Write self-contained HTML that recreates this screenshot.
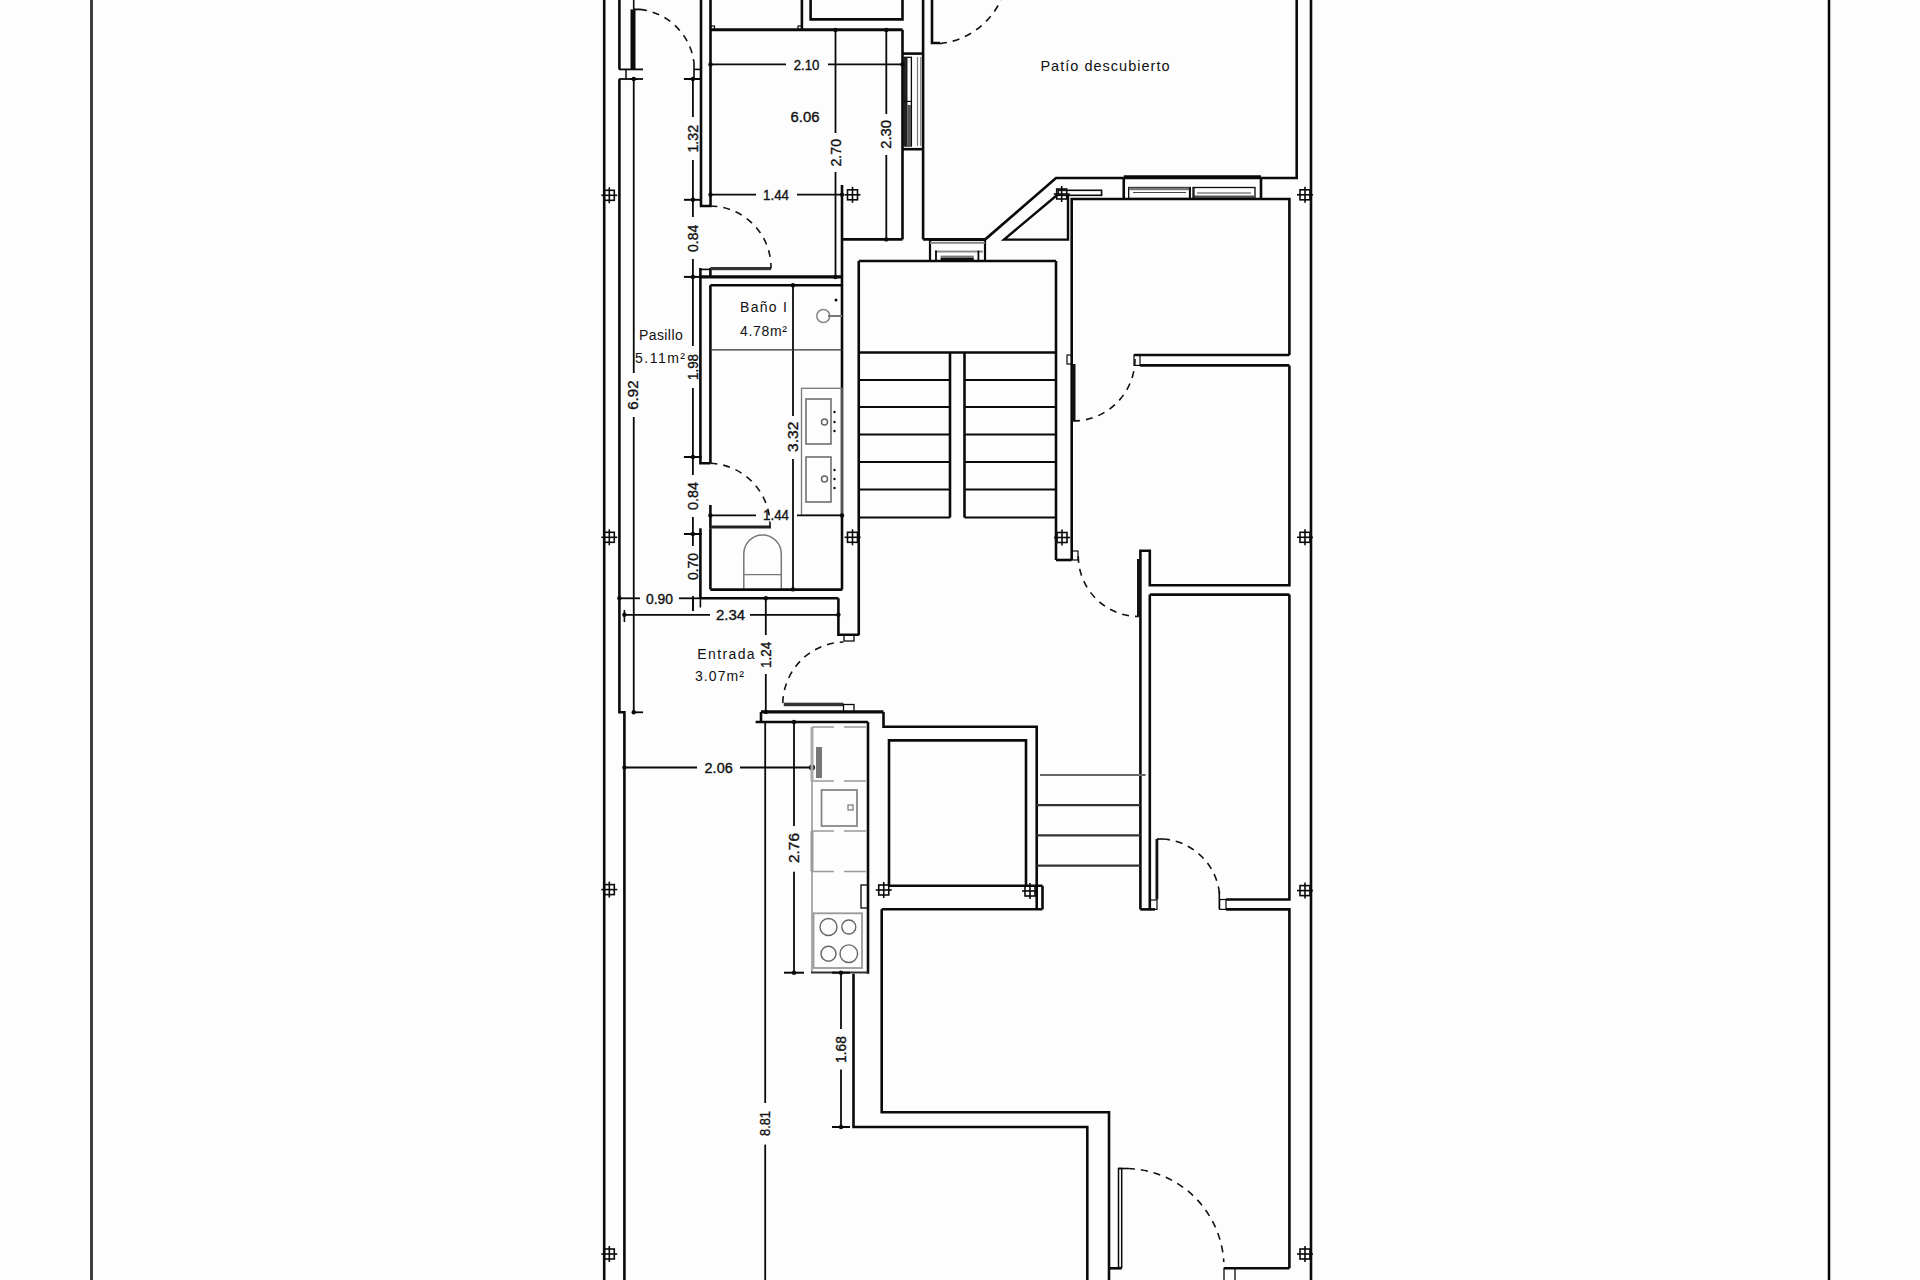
<!DOCTYPE html>
<html><head><meta charset="utf-8"><style>
html,body{margin:0;padding:0;background:#fdfdfd;width:1920px;height:1280px;overflow:hidden}
svg{display:block}
text{font-family:"Liberation Sans",sans-serif;fill:#111;stroke:#111;stroke-width:0.35px}
text.w{stroke-width:0}
</style></head><body>
<svg width="1920" height="1280" viewBox="0 0 1920 1280">
<line x1="91.5" y1="0" x2="91.5" y2="1280" stroke="#3f3f3f" stroke-width="3" />
<line x1="1829" y1="0" x2="1829" y2="1280" stroke="#050505" stroke-width="2.5" />
<line x1="604.2" y1="0" x2="604.2" y2="1280" stroke="#0a0a0a" stroke-width="2.6" />
<line x1="1311" y1="0" x2="1311" y2="1280" stroke="#0a0a0a" stroke-width="2.6" />
<polyline points="619.4,0 619.4,69.4" fill="none" stroke="#0a0a0a" stroke-width="2.6"/>
<polyline points="619.4,79 619.4,712.3 624.4,712.3 624.4,1280" fill="none" stroke="#0a0a0a" stroke-width="2.6"/>
<line x1="619" y1="69.4" x2="643" y2="69.4" stroke="#0a0a0a" stroke-width="1.8" />
<line x1="619" y1="79" x2="643" y2="79" stroke="#0a0a0a" stroke-width="1.8" />
<line x1="626" y1="69.4" x2="626" y2="79" stroke="#0a0a0a" stroke-width="1.5" />
<line x1="633.7" y1="0" x2="633.7" y2="9.4" stroke="#0a0a0a" stroke-width="1.6" />
<rect x="630.5" y="9.4" width="5.0" height="60.6" fill="#0a0a0a"/>
<line x1="633.7" y1="9.4" x2="640" y2="9.4" stroke="#0a0a0a" stroke-width="1.8" />
<path d="M640,9.4 A61,61 0 0 1 694,63" fill="none" stroke="#111" stroke-width="1.6" stroke-dasharray="7 6"/>
<line x1="694" y1="63" x2="694" y2="79" stroke="#0a0a0a" stroke-width="1.6" />
<line x1="694" y1="69.4" x2="701" y2="69.4" stroke="#0a0a0a" stroke-width="1.6" />
<line x1="633.75" y1="79" x2="633.75" y2="373" stroke="#0a0a0a" stroke-width="1.8" />
<line x1="633.75" y1="417" x2="633.75" y2="712.3" stroke="#0a0a0a" stroke-width="1.8" />
<line x1="629.75" y1="79" x2="637.75" y2="79" stroke="#0a0a0a" stroke-width="2.0" />
<circle cx="633.75" cy="79" r="2.2" fill="#0a0a0a" stroke="#0a0a0a" stroke-width="0"/>
<line x1="633" y1="712.3" x2="643" y2="712.3" stroke="#0a0a0a" stroke-width="1.8" />
<circle cx="633.75" cy="712.3" r="2.2" fill="#0a0a0a" stroke="#0a0a0a" stroke-width="0"/>
<text x="633.5" y="395.12" font-size="14" text-anchor="middle" dominant-baseline="central" textLength="29.25" lengthAdjust="spacingAndGlyphs" transform="rotate(-90 633.5 395.12)">6.92</text>
<polyline points="701,0 701,206 710.5,206 710.5,0" fill="none" stroke="#0a0a0a" stroke-width="2.6"/>
<line x1="710.5" y1="29.75" x2="902.5" y2="29.75" stroke="#0a0a0a" stroke-width="2.8" />
<line x1="801.9" y1="0" x2="801.9" y2="29.75" stroke="#0a0a0a" stroke-width="2.6" />
<polyline points="810.6,0 810.6,19.4 902.5,19.4 902.5,0" fill="none" stroke="#0a0a0a" stroke-width="2.6"/>
<rect x="710.5" y="26" width="4.0" height="3.75" fill="none" stroke="#0a0a0a" stroke-width="1.2"/>
<rect x="798" y="26" width="4" height="3.75" fill="none" stroke="#0a0a0a" stroke-width="1.2"/>
<line x1="902.5" y1="29.75" x2="902.5" y2="239.4" stroke="#0a0a0a" stroke-width="2.6" />
<line x1="923.1" y1="0" x2="923.1" y2="239.4" stroke="#0a0a0a" stroke-width="2.6" />
<line x1="902.5" y1="53.6" x2="923.1" y2="53.6" stroke="#0a0a0a" stroke-width="2.6" />
<line x1="902.5" y1="149.2" x2="923.1" y2="149.2" stroke="#0a0a0a" stroke-width="2.6" />
<rect x="904" y="57.3" width="7.399999999999977" height="88.7" fill="none" stroke="#0a0a0a" stroke-width="1.3"/>
<rect x="904" y="57.3" width="3.5" height="88.7" fill="#222"/>
<rect x="907.5" y="105" width="3.5" height="41" fill="#555"/>
<line x1="904" y1="101.4" x2="911.4" y2="101.4" stroke="#0a0a0a" stroke-width="1.2" />
<line x1="917.5" y1="57" x2="917.5" y2="146" stroke="#777" stroke-width="1.2" />
<line x1="920.8" y1="57" x2="920.8" y2="146" stroke="#777" stroke-width="1.2" />
<polyline points="932,0 932,43 940,43" fill="none" stroke="#0a0a0a" stroke-width="2.6"/>
<path d="M940,43.6 A76,76 0 0 0 1000.9,0" fill="none" stroke="#111" stroke-width="1.6" stroke-dasharray="7 6"/>
<line x1="710.5" y1="64.4" x2="786" y2="64.4" stroke="#0a0a0a" stroke-width="1.8" />
<line x1="828" y1="64.4" x2="902.5" y2="64.4" stroke="#0a0a0a" stroke-width="1.8" />
<circle cx="710.5" cy="64.4" r="2.2" fill="#0a0a0a" stroke="#0a0a0a" stroke-width="0"/>
<circle cx="902.5" cy="64.4" r="2.2" fill="#0a0a0a" stroke="#0a0a0a" stroke-width="0"/>
<text x="806.58" y="65" font-size="14" text-anchor="middle" dominant-baseline="central" textLength="25.65" lengthAdjust="spacingAndGlyphs">2.10</text>
<line x1="835.5" y1="29.75" x2="835.5" y2="133" stroke="#0a0a0a" stroke-width="1.8" />
<line x1="835.5" y1="172" x2="835.5" y2="277" stroke="#0a0a0a" stroke-width="1.8" />
<circle cx="835.5" cy="30" r="2.2" fill="#0a0a0a" stroke="#0a0a0a" stroke-width="0"/>
<circle cx="835.5" cy="277" r="2.2" fill="#0a0a0a" stroke="#0a0a0a" stroke-width="0"/>
<text x="835.5" y="152.75" font-size="14" text-anchor="middle" dominant-baseline="central" textLength="27.50" lengthAdjust="spacingAndGlyphs" transform="rotate(-90 835.5 152.75)">2.70</text>
<line x1="886.3" y1="29.75" x2="886.3" y2="114" stroke="#0a0a0a" stroke-width="1.8" />
<line x1="886.3" y1="155" x2="886.3" y2="239.4" stroke="#0a0a0a" stroke-width="1.8" />
<circle cx="886.3" cy="30" r="2.2" fill="#0a0a0a" stroke="#0a0a0a" stroke-width="0"/>
<circle cx="886.3" cy="239.4" r="2.2" fill="#0a0a0a" stroke="#0a0a0a" stroke-width="0"/>
<text x="886.3" y="134.38" font-size="14" text-anchor="middle" dominant-baseline="central" textLength="28.75" lengthAdjust="spacingAndGlyphs" transform="rotate(-90 886.3 134.38)">2.30</text>
<text x="805.00" y="116.5" font-size="14" text-anchor="middle" dominant-baseline="central" textLength="28.80" lengthAdjust="spacingAndGlyphs">6.06</text>
<line x1="710.5" y1="194.6" x2="756" y2="194.6" stroke="#0a0a0a" stroke-width="1.8" />
<line x1="797" y1="194.6" x2="842" y2="194.6" stroke="#0a0a0a" stroke-width="1.8" />
<circle cx="710.5" cy="194.6" r="2.2" fill="#0a0a0a" stroke="#0a0a0a" stroke-width="0"/>
<circle cx="842" cy="194.6" r="2.2" fill="#0a0a0a" stroke="#0a0a0a" stroke-width="0"/>
<text x="776.00" y="194.6" font-size="14" text-anchor="middle" dominant-baseline="central" textLength="26.00" lengthAdjust="spacingAndGlyphs">1.44</text>
<line x1="601.3" y1="195.3" x2="617.3" y2="195.3" stroke="#0a0a0a" stroke-width="1.6" />
<line x1="609.3" y1="187.3" x2="609.3" y2="203.3" stroke="#0a0a0a" stroke-width="1.6" />
<rect x="604.3" y="190.3" width="10.0" height="10.0" fill="none" stroke="#0a0a0a" stroke-width="1.6"/>
<line x1="844.5" y1="194.8" x2="860.5" y2="194.8" stroke="#0a0a0a" stroke-width="1.6" />
<line x1="852.5" y1="186.8" x2="852.5" y2="202.8" stroke="#0a0a0a" stroke-width="1.6" />
<rect x="847.5" y="189.8" width="10.0" height="10.0" fill="none" stroke="#0a0a0a" stroke-width="1.6"/>
<line x1="692.9" y1="79" x2="692.9" y2="117" stroke="#0a0a0a" stroke-width="1.8" />
<line x1="692.9" y1="160" x2="692.9" y2="217" stroke="#0a0a0a" stroke-width="1.8" />
<line x1="692.9" y1="259" x2="692.9" y2="346" stroke="#0a0a0a" stroke-width="1.8" />
<line x1="692.9" y1="388" x2="692.9" y2="475" stroke="#0a0a0a" stroke-width="1.8" />
<line x1="692.9" y1="517" x2="692.9" y2="546" stroke="#0a0a0a" stroke-width="1.8" />
<line x1="692.9" y1="596" x2="692.9" y2="611" stroke="#0a0a0a" stroke-width="1.8" />
<line x1="700.4" y1="598.3" x2="700.4" y2="607.5" stroke="#0a0a0a" stroke-width="1.6" />
<line x1="683.9" y1="79" x2="701.9" y2="79" stroke="#0a0a0a" stroke-width="2.0" />
<circle cx="692.9" cy="79" r="2.2" fill="#0a0a0a" stroke="#0a0a0a" stroke-width="0"/>
<line x1="683.9" y1="199.8" x2="701.9" y2="199.8" stroke="#0a0a0a" stroke-width="2.0" />
<circle cx="692.9" cy="199.8" r="2.2" fill="#0a0a0a" stroke="#0a0a0a" stroke-width="0"/>
<line x1="683.9" y1="276.9" x2="701.9" y2="276.9" stroke="#0a0a0a" stroke-width="2.0" />
<circle cx="692.9" cy="276.9" r="2.2" fill="#0a0a0a" stroke="#0a0a0a" stroke-width="0"/>
<line x1="683.9" y1="457" x2="701.9" y2="457" stroke="#0a0a0a" stroke-width="2.0" />
<circle cx="692.9" cy="457" r="2.2" fill="#0a0a0a" stroke="#0a0a0a" stroke-width="0"/>
<line x1="683.9" y1="534" x2="701.9" y2="534" stroke="#0a0a0a" stroke-width="2.0" />
<circle cx="692.9" cy="534" r="2.2" fill="#0a0a0a" stroke="#0a0a0a" stroke-width="0"/>
<line x1="692.9" y1="598.3" x2="692.9" y2="611" stroke="#0a0a0a" stroke-width="1.8" />
<text x="692.9" y="138.75" font-size="14" text-anchor="middle" dominant-baseline="central" textLength="27.50" lengthAdjust="spacingAndGlyphs" transform="rotate(-90 692.9 138.75)">1.32</text>
<text x="692.9" y="238.35" font-size="14" text-anchor="middle" dominant-baseline="central" textLength="27.10" lengthAdjust="spacingAndGlyphs" transform="rotate(-90 692.9 238.35)">0.84</text>
<text x="692.9" y="367.00" font-size="14" text-anchor="middle" dominant-baseline="central" textLength="26.00" lengthAdjust="spacingAndGlyphs" transform="rotate(-90 692.9 367.00)">1.98</text>
<text x="692.9" y="496.00" font-size="14" text-anchor="middle" dominant-baseline="central" textLength="28.00" lengthAdjust="spacingAndGlyphs" transform="rotate(-90 692.9 496.00)">0.84</text>
<text x="692.9" y="566.50" font-size="14" text-anchor="middle" dominant-baseline="central" textLength="27.00" lengthAdjust="spacingAndGlyphs" transform="rotate(-90 692.9 566.50)">0.70</text>
<polyline points="700.4,268 700.4,463.3 710.4,463.3" fill="none" stroke="#0a0a0a" stroke-width="2.6"/>
<line x1="710.4" y1="268" x2="710.4" y2="277" stroke="#0a0a0a" stroke-width="2.6" />
<line x1="700.4" y1="269.4" x2="710.4" y2="269.4" stroke="#0a0a0a" stroke-width="1.6" />
<rect x="710.4" y="267" width="60.60000000000002" height="3.1999999999999886" fill="#333"/>
<path d="M710.4,206 A61.5,61.5 0 0 1 771,268.5" fill="none" stroke="#111" stroke-width="1.6" stroke-dasharray="7 6"/>
<line x1="700.4" y1="276.9" x2="842" y2="276.9" stroke="#0a0a0a" stroke-width="3.2" />
<line x1="842" y1="185" x2="842" y2="589.4" stroke="#0a0a0a" stroke-width="2.6" />
<polyline points="842,239.4 902.5,239.4" fill="none" stroke="#0a0a0a" stroke-width="2.6"/>
<line x1="923.1" y1="239.4" x2="985" y2="239.4" stroke="#0a0a0a" stroke-width="2.6" />
<line x1="930" y1="239.4" x2="930" y2="261" stroke="#0a0a0a" stroke-width="2.2" />
<line x1="985" y1="239.4" x2="985" y2="261" stroke="#0a0a0a" stroke-width="2.2" />
<rect x="930" y="241.8" width="55" height="2.0" fill="#888"/>
<rect x="935" y="250.6" width="48" height="1.9000000000000057" fill="#888"/>
<line x1="936" y1="250.6" x2="936" y2="261" stroke="#0a0a0a" stroke-width="1.8" />
<line x1="978.4" y1="250.6" x2="978.4" y2="261" stroke="#0a0a0a" stroke-width="1.8" />
<rect x="940.6" y="255.6" width="33.19999999999993" height="2.4000000000000057" fill="#777"/>
<rect x="940.6" y="258" width="33.19999999999993" height="3" fill="#111"/>
<line x1="858.75" y1="261" x2="1056" y2="261" stroke="#0a0a0a" stroke-width="2.6" />
<line x1="858.75" y1="261" x2="858.75" y2="635.2" stroke="#0a0a0a" stroke-width="2.6" />
<line x1="858.75" y1="352.5" x2="1056" y2="352.5" stroke="#0a0a0a" stroke-width="2.6" />
<line x1="950" y1="352.5" x2="950" y2="517.5" stroke="#0a0a0a" stroke-width="2.6" />
<line x1="964.5" y1="352.5" x2="964.5" y2="517.5" stroke="#0a0a0a" stroke-width="2.6" />
<line x1="858.75" y1="380" x2="950" y2="380" stroke="#0a0a0a" stroke-width="2.2" />
<line x1="964.5" y1="380" x2="1056" y2="380" stroke="#0a0a0a" stroke-width="2.2" />
<line x1="858.75" y1="407" x2="950" y2="407" stroke="#0a0a0a" stroke-width="2.2" />
<line x1="964.5" y1="407" x2="1056" y2="407" stroke="#0a0a0a" stroke-width="2.2" />
<line x1="858.75" y1="434.5" x2="950" y2="434.5" stroke="#0a0a0a" stroke-width="2.2" />
<line x1="964.5" y1="434.5" x2="1056" y2="434.5" stroke="#0a0a0a" stroke-width="2.2" />
<line x1="858.75" y1="462" x2="950" y2="462" stroke="#0a0a0a" stroke-width="2.2" />
<line x1="964.5" y1="462" x2="1056" y2="462" stroke="#0a0a0a" stroke-width="2.2" />
<line x1="858.75" y1="489.5" x2="950" y2="489.5" stroke="#0a0a0a" stroke-width="2.2" />
<line x1="964.5" y1="489.5" x2="1056" y2="489.5" stroke="#0a0a0a" stroke-width="2.2" />
<line x1="858.75" y1="517.5" x2="950" y2="517.5" stroke="#0a0a0a" stroke-width="2.2" />
<line x1="964.5" y1="517.5" x2="1056" y2="517.5" stroke="#0a0a0a" stroke-width="2.2" />
<line x1="1056" y1="261" x2="1056" y2="560" stroke="#0a0a0a" stroke-width="2.6" />
<line x1="710.4" y1="285.2" x2="842" y2="285.2" stroke="#0a0a0a" stroke-width="2.6" />
<line x1="710.4" y1="285.2" x2="710.4" y2="463.3" stroke="#0a0a0a" stroke-width="2.6" />
<line x1="793" y1="285.2" x2="793" y2="416" stroke="#0a0a0a" stroke-width="1.8" />
<line x1="793" y1="459" x2="793" y2="589.4" stroke="#0a0a0a" stroke-width="1.8" />
<circle cx="793" cy="285.2" r="2.2" fill="#0a0a0a" stroke="#0a0a0a" stroke-width="0"/>
<circle cx="793" cy="589.4" r="2.2" fill="#0a0a0a" stroke="#0a0a0a" stroke-width="0"/>
<text x="793" y="436.85" font-size="14" text-anchor="middle" dominant-baseline="central" textLength="30.30" lengthAdjust="spacingAndGlyphs" transform="rotate(-90 793 436.85)">3.32</text>
<line x1="710.4" y1="349.8" x2="842" y2="349.8" stroke="#333" stroke-width="1.3" />
<circle cx="823.3" cy="316" r="6.5" fill="none" stroke="#888" stroke-width="1.6"/>
<line x1="828" y1="316" x2="842" y2="316" stroke="#777" stroke-width="2" />
<circle cx="836" cy="300" r="1.5" fill="#0a0a0a" stroke="#0a0a0a" stroke-width="0"/>
<text class="w" x="763.50" y="307" font-size="14" text-anchor="middle" dominant-baseline="central" textLength="47.00" lengthAdjust="spacing">Baño I</text>
<text class="w" x="763.50" y="331" font-size="14" text-anchor="middle" dominant-baseline="central" textLength="47.00" lengthAdjust="spacing">4.78m²</text>
<text class="w" x="660.85" y="334.7" font-size="14" text-anchor="middle" dominant-baseline="central" textLength="43.70" lengthAdjust="spacing">Pasillo</text>
<text class="w" x="660.00" y="357.5" font-size="14" text-anchor="middle" dominant-baseline="central" textLength="50.00" lengthAdjust="spacing">5.11m²</text>
<rect x="801.5" y="388.3" width="40.5" height="127.09999999999997" fill="none" stroke="#777" stroke-width="1.3"/>
<rect x="806" y="399" width="25" height="45" fill="none" stroke="#666" stroke-width="1.5"/>
<rect x="806" y="457" width="25" height="45" fill="none" stroke="#666" stroke-width="1.5"/>
<circle cx="824.5" cy="422" r="3" fill="none" stroke="#666" stroke-width="1.5"/>
<circle cx="824.5" cy="479" r="3" fill="none" stroke="#666" stroke-width="1.5"/>
<circle cx="834.5" cy="412" r="1.2" fill="#0a0a0a" stroke="#0a0a0a" stroke-width="0"/>
<circle cx="834.5" cy="422" r="1.2" fill="#0a0a0a" stroke="#0a0a0a" stroke-width="0"/>
<circle cx="834.5" cy="431" r="1.2" fill="#0a0a0a" stroke="#0a0a0a" stroke-width="0"/>
<circle cx="834.5" cy="470" r="1.2" fill="#0a0a0a" stroke="#0a0a0a" stroke-width="0"/>
<circle cx="834.5" cy="479" r="1.2" fill="#0a0a0a" stroke="#0a0a0a" stroke-width="0"/>
<circle cx="834.5" cy="488" r="1.2" fill="#0a0a0a" stroke="#0a0a0a" stroke-width="0"/>
<line x1="710.4" y1="515.4" x2="756" y2="515.4" stroke="#0a0a0a" stroke-width="1.8" />
<line x1="797" y1="515.4" x2="842" y2="515.4" stroke="#0a0a0a" stroke-width="1.8" />
<circle cx="710.4" cy="515.4" r="2.2" fill="#0a0a0a" stroke="#0a0a0a" stroke-width="0"/>
<circle cx="842" cy="515.4" r="2.2" fill="#0a0a0a" stroke="#0a0a0a" stroke-width="0"/>
<line x1="710.4" y1="505" x2="710.4" y2="528.3" stroke="#0a0a0a" stroke-width="2.6" />
<text x="776.00" y="515.3" font-size="14" text-anchor="middle" dominant-baseline="central" textLength="26.00" lengthAdjust="spacingAndGlyphs">1.44</text>
<rect x="710.4" y="525.5" width="60.60000000000002" height="3.0" fill="#222"/>
<path d="M710.4,463.3 A62,62 0 0 1 770,526" fill="none" stroke="#111" stroke-width="1.6" stroke-dasharray="7 6"/>
<line x1="700.4" y1="528.3" x2="700.4" y2="598.3" stroke="#0a0a0a" stroke-width="2.6" />
<line x1="710.4" y1="528.3" x2="710.4" y2="589.4" stroke="#0a0a0a" stroke-width="2.6" />
<path d="M743.8,589 L743.8,554 A18.7,19 0 0 1 781.3,554 L781.3,589" fill="none" stroke="#777" stroke-width="1.5"/>
<line x1="743.8" y1="574.6" x2="781.3" y2="574.6" stroke="#777" stroke-width="1.3" />
<line x1="710.4" y1="589.6" x2="842.3" y2="589.6" stroke="#0a0a0a" stroke-width="2.6" />
<line x1="700.4" y1="598.3" x2="838.4" y2="598.3" stroke="#0a0a0a" stroke-width="2.6" />
<polyline points="838.4,598.3 838.4,634.8 858.75,634.8" fill="none" stroke="#0a0a0a" stroke-width="2.6"/>
<rect x="844" y="634.8" width="10" height="6.2000000000000455" fill="none" stroke="#0a0a0a" stroke-width="1.3"/>
<line x1="601.3" y1="537.3" x2="617.3" y2="537.3" stroke="#0a0a0a" stroke-width="1.6" />
<line x1="609.3" y1="529.3" x2="609.3" y2="545.3" stroke="#0a0a0a" stroke-width="1.6" />
<rect x="604.3" y="532.3" width="10.0" height="10.0" fill="none" stroke="#0a0a0a" stroke-width="1.6"/>
<line x1="844.5" y1="537.3" x2="860.5" y2="537.3" stroke="#0a0a0a" stroke-width="1.6" />
<line x1="852.5" y1="529.3" x2="852.5" y2="545.3" stroke="#0a0a0a" stroke-width="1.6" />
<rect x="847.5" y="532.3" width="10.0" height="10.0" fill="none" stroke="#0a0a0a" stroke-width="1.6"/>
<line x1="619.4" y1="598.3" x2="640" y2="598.3" stroke="#0a0a0a" stroke-width="1.8" />
<line x1="679" y1="598.3" x2="700.4" y2="598.3" stroke="#0a0a0a" stroke-width="1.8" />
<circle cx="619.4" cy="598.3" r="2.2" fill="#0a0a0a" stroke="#0a0a0a" stroke-width="0"/>
<text x="659.50" y="598.8" font-size="14" text-anchor="middle" dominant-baseline="central" textLength="27.00" lengthAdjust="spacingAndGlyphs">0.90</text>
<line x1="624.4" y1="614.8" x2="710" y2="614.8" stroke="#0a0a0a" stroke-width="1.8" />
<line x1="750" y1="614.8" x2="838.4" y2="614.8" stroke="#0a0a0a" stroke-width="1.8" />
<circle cx="624.4" cy="614.8" r="2.2" fill="#0a0a0a" stroke="#0a0a0a" stroke-width="0"/>
<circle cx="838.4" cy="614.8" r="2.2" fill="#0a0a0a" stroke="#0a0a0a" stroke-width="0"/>
<line x1="624.4" y1="610" x2="624.4" y2="622" stroke="#0a0a0a" stroke-width="1.6" />
<text x="730.50" y="615.3" font-size="14" text-anchor="middle" dominant-baseline="central" textLength="29.00" lengthAdjust="spacingAndGlyphs">2.34</text>
<line x1="765.8" y1="598.3" x2="765.8" y2="635" stroke="#0a0a0a" stroke-width="1.8" />
<line x1="765.8" y1="674" x2="765.8" y2="711.9" stroke="#0a0a0a" stroke-width="1.8" />
<circle cx="765.8" cy="598.3" r="2.2" fill="#0a0a0a" stroke="#0a0a0a" stroke-width="0"/>
<circle cx="765.8" cy="711.9" r="2.2" fill="#0a0a0a" stroke="#0a0a0a" stroke-width="0"/>
<text x="765.8" y="654.80" font-size="14" text-anchor="middle" dominant-baseline="central" textLength="26.40" lengthAdjust="spacingAndGlyphs" transform="rotate(-90 765.8 654.80)">1.24</text>
<rect x="783.75" y="702.7" width="59.75" height="3.5" fill="#333"/>
<path d="M782.8,703 A62.5,62.5 0 0 1 843.5,642" fill="none" stroke="#111" stroke-width="1.6" stroke-dasharray="7 6"/>
<rect x="843.5" y="704.5" width="10.5" height="7.399999999999977" fill="none" stroke="#0a0a0a" stroke-width="1.3"/>
<text class="w" x="725.95" y="654" font-size="14" text-anchor="middle" dominant-baseline="central" textLength="57.30" lengthAdjust="spacing">Entrada</text>
<text class="w" x="719.50" y="676" font-size="14" text-anchor="middle" dominant-baseline="central" textLength="49.00" lengthAdjust="spacing">3.07m²</text>
<line x1="761" y1="711.9" x2="883.5" y2="711.9" stroke="#0a0a0a" stroke-width="3.2" />
<polyline points="883.5,711.9 883.5,726.8 1036.7,726.8 1036.7,909.4" fill="none" stroke="#0a0a0a" stroke-width="2.6"/>
<polyline points="761,711.9 761,722" fill="none" stroke="#0a0a0a" stroke-width="2.6"/>
<line x1="755.6" y1="722" x2="868" y2="722" stroke="#0a0a0a" stroke-width="2.6" />
<line x1="868" y1="722" x2="868" y2="973.75" stroke="#0a0a0a" stroke-width="2.6" />
<line x1="765.2" y1="722" x2="765.2" y2="1103" stroke="#0a0a0a" stroke-width="1.8" />
<line x1="765.2" y1="1144.6" x2="765.2" y2="1280" stroke="#0a0a0a" stroke-width="1.8" />
<text x="765.2" y="1123.50" font-size="14" text-anchor="middle" dominant-baseline="central" textLength="25.00" lengthAdjust="spacingAndGlyphs" transform="rotate(-90 765.2 1123.50)">8.81</text>
<line x1="794" y1="722" x2="794" y2="826" stroke="#0a0a0a" stroke-width="1.8" />
<line x1="794" y1="871.7" x2="794" y2="972.7" stroke="#0a0a0a" stroke-width="1.8" />
<circle cx="794" cy="722" r="2.2" fill="#0a0a0a" stroke="#0a0a0a" stroke-width="0"/>
<line x1="784" y1="972.7" x2="804" y2="972.7" stroke="#0a0a0a" stroke-width="2.0" />
<circle cx="794" cy="972.7" r="2.2" fill="#0a0a0a" stroke="#0a0a0a" stroke-width="0"/>
<text x="794" y="848.00" font-size="14" text-anchor="middle" dominant-baseline="central" textLength="30.00" lengthAdjust="spacingAndGlyphs" transform="rotate(-90 794 848.00)">2.76</text>
<line x1="624.4" y1="767.5" x2="697" y2="767.5" stroke="#0a0a0a" stroke-width="1.8" />
<line x1="740" y1="767.5" x2="812" y2="767.5" stroke="#0a0a0a" stroke-width="1.8" />
<circle cx="624.4" cy="767.5" r="2.2" fill="#0a0a0a" stroke="#0a0a0a" stroke-width="0"/>
<circle cx="812" cy="767.5" r="3" fill="#0a0a0a" stroke="#0a0a0a" stroke-width="0"/>
<text x="718.65" y="768" font-size="14" text-anchor="middle" dominant-baseline="central" textLength="28.10" lengthAdjust="spacingAndGlyphs">2.06</text>
<line x1="812" y1="727" x2="812" y2="972.5" stroke="#999" stroke-width="1.6" />
<rect x="810.5" y="727" width="3.0" height="54" fill="#aaa"/>
<rect x="810.5" y="831" width="3.0" height="40.5" fill="#999"/>
<line x1="812" y1="727" x2="867" y2="727" stroke="#999" stroke-width="1.6" stroke-dasharray="22 10"/>
<line x1="812" y1="781" x2="867" y2="781" stroke="#999" stroke-width="1.6" stroke-dasharray="22 10"/>
<line x1="812" y1="831" x2="867" y2="831" stroke="#999" stroke-width="1.6" stroke-dasharray="22 10"/>
<line x1="812" y1="871.5" x2="867" y2="871.5" stroke="#999" stroke-width="1.6" stroke-dasharray="22 10"/>
<line x1="811" y1="972.5" x2="868" y2="972.5" stroke="#333" stroke-width="2.0" />
<rect x="816" y="747" width="6" height="31" fill="#777"/>
<rect x="821.5" y="790" width="35.5" height="36" fill="none" stroke="#888" stroke-width="1.8"/>
<rect x="848" y="805" width="5" height="5" fill="none" stroke="#777" stroke-width="1.2"/>
<rect x="813.5" y="913.3" width="48.5" height="54.700000000000045" fill="none" stroke="#999" stroke-width="1.8"/>
<circle cx="828.5" cy="927" r="8.5" fill="none" stroke="#666" stroke-width="1.4"/>
<circle cx="848.8" cy="927" r="7" fill="none" stroke="#666" stroke-width="1.4"/>
<circle cx="828.5" cy="953.7" r="7.5" fill="none" stroke="#666" stroke-width="1.4"/>
<circle cx="848.8" cy="953.7" r="8.8" fill="none" stroke="#666" stroke-width="1.4"/>
<rect x="861" y="885" width="7" height="23" fill="none" stroke="#0a0a0a" stroke-width="1.3"/>
<polyline points="889,886 889,740.4 1026,740.4 1026,885" fill="none" stroke="#0a0a0a" stroke-width="2.6"/>
<line x1="889" y1="885.8" x2="1042.5" y2="885.8" stroke="#0a0a0a" stroke-width="2.6" />
<line x1="881.7" y1="909.3" x2="1042.5" y2="909.3" stroke="#0a0a0a" stroke-width="2.6" />
<line x1="1042.5" y1="885.8" x2="1042.5" y2="909.3" stroke="#0a0a0a" stroke-width="2.6" />
<line x1="875.75" y1="890" x2="891.75" y2="890" stroke="#0a0a0a" stroke-width="1.6" />
<line x1="883.75" y1="882" x2="883.75" y2="898" stroke="#0a0a0a" stroke-width="1.6" />
<rect x="878.75" y="885" width="10.0" height="10" fill="none" stroke="#0a0a0a" stroke-width="1.6"/>
<line x1="1022" y1="891" x2="1038" y2="891" stroke="#0a0a0a" stroke-width="1.6" />
<line x1="1030" y1="883" x2="1030" y2="899" stroke="#0a0a0a" stroke-width="1.6" />
<rect x="1025" y="886" width="10" height="10" fill="none" stroke="#0a0a0a" stroke-width="1.6"/>
<line x1="601.3" y1="889.6" x2="617.3" y2="889.6" stroke="#0a0a0a" stroke-width="1.6" />
<line x1="609.3" y1="881.6" x2="609.3" y2="897.6" stroke="#0a0a0a" stroke-width="1.6" />
<rect x="604.3" y="884.6" width="10.0" height="10.0" fill="none" stroke="#0a0a0a" stroke-width="1.6"/>
<polyline points="881.7,909.3 881.7,1112.3 1109,1112.3 1109,1280" fill="none" stroke="#0a0a0a" stroke-width="2.6"/>
<polyline points="853.5,973.75 853.5,1127 1087.3,1127 1087.3,1280" fill="none" stroke="#0a0a0a" stroke-width="2.6"/>
<line x1="841" y1="972.7" x2="841" y2="1029" stroke="#0a0a0a" stroke-width="1.8" />
<line x1="841" y1="1069.6" x2="841" y2="1127" stroke="#0a0a0a" stroke-width="1.8" />
<line x1="832" y1="972.7" x2="850" y2="972.7" stroke="#0a0a0a" stroke-width="2.0" />
<circle cx="841" cy="972.7" r="2.2" fill="#0a0a0a" stroke="#0a0a0a" stroke-width="0"/>
<line x1="832" y1="1127" x2="850" y2="1127" stroke="#0a0a0a" stroke-width="2.0" />
<circle cx="841" cy="1127" r="2.2" fill="#0a0a0a" stroke="#0a0a0a" stroke-width="0"/>
<text x="841" y="1049.50" font-size="14" text-anchor="middle" dominant-baseline="central" textLength="27.00" lengthAdjust="spacingAndGlyphs" transform="rotate(-90 841 1049.50)">1.68</text>
<line x1="601.3" y1="1254" x2="617.3" y2="1254" stroke="#0a0a0a" stroke-width="1.6" />
<line x1="609.3" y1="1246" x2="609.3" y2="1262" stroke="#0a0a0a" stroke-width="1.6" />
<rect x="604.3" y="1249" width="10.0" height="10" fill="none" stroke="#0a0a0a" stroke-width="1.6"/>
<polyline points="1296.7,0 1296.7,178 1056,178 985,239.6 930,239.6" fill="none" stroke="#0a0a0a" stroke-width="2.6"/>
<rect x="1058.3" y="190.3" width="43.299999999999955" height="5.0" fill="none" stroke="#0a0a0a" stroke-width="1.6"/>
<polyline points="1058.3,194 1004,239.6 1068,239.6 1068,195.3" fill="none" stroke="#0a0a0a" stroke-width="2.4"/>
<line x1="1053.7" y1="194" x2="1069.7" y2="194" stroke="#0a0a0a" stroke-width="1.6" />
<line x1="1061.7" y1="186" x2="1061.7" y2="202" stroke="#0a0a0a" stroke-width="1.6" />
<rect x="1056.7" y="189" width="10.0" height="10" fill="none" stroke="#0a0a0a" stroke-width="1.6"/>
<line x1="1123.75" y1="177" x2="1261" y2="177" stroke="#0a0a0a" stroke-width="3.4" />
<line x1="1123.75" y1="177" x2="1123.75" y2="199" stroke="#0a0a0a" stroke-width="2.6" />
<line x1="1261" y1="177" x2="1261" y2="199" stroke="#0a0a0a" stroke-width="2.6" />
<rect x="1128.7" y="187.5" width="61.59999999999991" height="11.0" fill="none" stroke="#0a0a0a" stroke-width="1.3"/>
<rect x="1193" y="187.5" width="62" height="11.0" fill="none" stroke="#0a0a0a" stroke-width="1.3"/>
<rect x="1129" y="187.5" width="61" height="2.6999999999999886" fill="#777"/>
<rect x="1193" y="195.5" width="62" height="3.0" fill="#555"/>
<line x1="1133" y1="192.5" x2="1186" y2="192.5" stroke="#444" stroke-width="1.1" />
<line x1="1197" y1="193" x2="1251" y2="193" stroke="#444" stroke-width="1.1" />
<line x1="1189.5" y1="187.5" x2="1189.5" y2="198.5" stroke="#0a0a0a" stroke-width="1.2" />
<line x1="1194" y1="187.5" x2="1194" y2="198.5" stroke="#0a0a0a" stroke-width="1.2" />
<text class="w" x="1105.00" y="66" font-size="14.5" text-anchor="middle" dominant-baseline="central" textLength="129.20" lengthAdjust="spacing">Patío descubierto</text>
<polyline points="1071.7,560 1071.7,199 1289.4,199 1289.4,355" fill="none" stroke="#0a0a0a" stroke-width="2.6"/>
<line x1="1297" y1="194.8" x2="1313" y2="194.8" stroke="#0a0a0a" stroke-width="1.6" />
<line x1="1305" y1="186.8" x2="1305" y2="202.8" stroke="#0a0a0a" stroke-width="1.6" />
<rect x="1300" y="189.8" width="10" height="10.0" fill="none" stroke="#0a0a0a" stroke-width="1.6"/>
<rect x="1067" y="355" width="5" height="9" fill="none" stroke="#0a0a0a" stroke-width="1.2"/>
<rect x="1072" y="364" width="3.5" height="57" fill="#111"/>
<path d="M1073,421 A62,62 0 0 0 1135,359" fill="none" stroke="#111" stroke-width="1.6" stroke-dasharray="7 6"/>
<rect x="1134" y="355" width="6" height="10.399999999999977" fill="none" stroke="#0a0a0a" stroke-width="1.2"/>
<line x1="1134" y1="355" x2="1289.4" y2="355" stroke="#0a0a0a" stroke-width="2.6" />
<line x1="1140" y1="365.4" x2="1289.4" y2="365.4" stroke="#0a0a0a" stroke-width="2.6" />
<polyline points="1289.4,365.4 1289.4,585.2 1149.8,585.2 1149.8,550.8 1140.4,550.8 1140.4,909.4" fill="none" stroke="#0a0a0a" stroke-width="2.6"/>
<line x1="1149.8" y1="594.6" x2="1289.4" y2="594.6" stroke="#0a0a0a" stroke-width="2.6" />
<polyline points="1149.8,594.6 1149.8,909.4" fill="none" stroke="#0a0a0a" stroke-width="2.6"/>
<polyline points="1056,560 1071.7,560" fill="none" stroke="#0a0a0a" stroke-width="2.6"/>
<rect x="1072" y="551" width="6" height="9" fill="none" stroke="#0a0a0a" stroke-width="1.2"/>
<line x1="1054" y1="537.5" x2="1070" y2="537.5" stroke="#0a0a0a" stroke-width="1.6" />
<line x1="1062" y1="529.5" x2="1062" y2="545.5" stroke="#0a0a0a" stroke-width="1.6" />
<rect x="1057" y="532.5" width="10" height="10.0" fill="none" stroke="#0a0a0a" stroke-width="1.6"/>
<line x1="1297" y1="537.3" x2="1313" y2="537.3" stroke="#0a0a0a" stroke-width="1.6" />
<line x1="1305" y1="529.3" x2="1305" y2="545.3" stroke="#0a0a0a" stroke-width="1.6" />
<rect x="1300" y="532.3" width="10" height="10.0" fill="none" stroke="#0a0a0a" stroke-width="1.6"/>
<rect x="1137" y="559" width="3.599999999999909" height="57.5" fill="#111"/>
<path d="M1078.3,556 A60.5,60.5 0 0 0 1138.8,616.5" fill="none" stroke="#111" stroke-width="1.6" stroke-dasharray="7 6"/>
<line x1="1040" y1="775" x2="1145.6" y2="775" stroke="#666" stroke-width="2.2" />
<line x1="1036.7" y1="805.2" x2="1140.4" y2="805.2" stroke="#333" stroke-width="2.2" />
<line x1="1036.7" y1="835.4" x2="1140.4" y2="835.4" stroke="#333" stroke-width="2.2" />
<line x1="1036.7" y1="865.6" x2="1140.4" y2="865.6" stroke="#333" stroke-width="2.2" />
<line x1="1140.4" y1="909.4" x2="1155" y2="909.4" stroke="#0a0a0a" stroke-width="2.6" />
<rect x="1150" y="900" width="7" height="9.399999999999977" fill="none" stroke="#0a0a0a" stroke-width="1.2"/>
<rect x="1155.5" y="839" width="2.7999999999999545" height="60.5" fill="#111"/>
<line x1="1219.3" y1="891" x2="1219.3" y2="909" stroke="#0a0a0a" stroke-width="1.6" />
<line x1="1157" y1="839" x2="1163" y2="839" stroke="#0a0a0a" stroke-width="1.6" />
<path d="M1163,839 A61,61 0 0 1 1219.6,895" fill="none" stroke="#111" stroke-width="1.6" stroke-dasharray="7 6"/>
<rect x="1219.6" y="899.5" width="6.400000000000091" height="9.899999999999977" fill="none" stroke="#0a0a0a" stroke-width="1.2"/>
<polyline points="1226,899.5 1289.4,899.5 1289.4,594.6" fill="none" stroke="#0a0a0a" stroke-width="2.6"/>
<polyline points="1226,909.4 1289.4,909.4 1289.4,1268.3" fill="none" stroke="#0a0a0a" stroke-width="2.6"/>
<line x1="1297" y1="890.6" x2="1313" y2="890.6" stroke="#0a0a0a" stroke-width="1.6" />
<line x1="1305" y1="882.6" x2="1305" y2="898.6" stroke="#0a0a0a" stroke-width="1.6" />
<rect x="1300" y="885.6" width="10" height="10.0" fill="none" stroke="#0a0a0a" stroke-width="1.6"/>
<rect x="1118.5" y="1168.5" width="3.2000000000000455" height="99.0" fill="none" stroke="#0a0a0a" stroke-width="1.5"/>
<line x1="1118.5" y1="1168.5" x2="1128" y2="1168.5" stroke="#0a0a0a" stroke-width="1.6" />
<path d="M1128,1168.5 A99,99 0 0 1 1223.8,1262" fill="none" stroke="#111" stroke-width="1.6" stroke-dasharray="7 6"/>
<line x1="1109" y1="1268.3" x2="1121.7" y2="1268.3" stroke="#0a0a0a" stroke-width="2.6" />
<polyline points="1224,1268.3 1289.4,1268.3" fill="none" stroke="#0a0a0a" stroke-width="2.6"/>
<rect x="1224" y="1268.3" width="11" height="13.700000000000045" fill="none" stroke="#0a0a0a" stroke-width="1.3"/>
<line x1="1297" y1="1254" x2="1313" y2="1254" stroke="#0a0a0a" stroke-width="1.6" />
<line x1="1305" y1="1246" x2="1305" y2="1262" stroke="#0a0a0a" stroke-width="1.6" />
<rect x="1300" y="1249" width="10" height="10" fill="none" stroke="#0a0a0a" stroke-width="1.6"/>
</svg></body></html>
